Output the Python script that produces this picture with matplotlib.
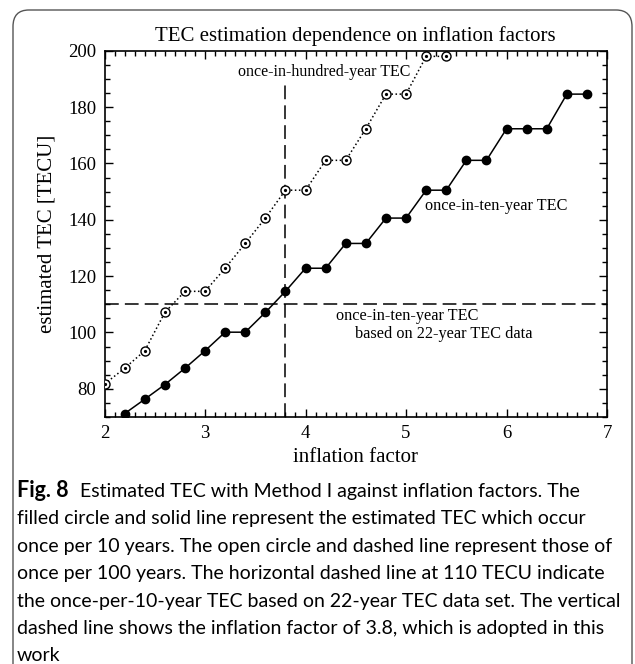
import numpy as np
import matplotlib
matplotlib.use("Agg")
import matplotlib.pyplot as plt
from matplotlib.patches import FancyBboxPatch
from matplotlib.ticker import MultipleLocator

plt.rcParams['font.family'] = 'Liberation Serif'

# 10년 1회 (filled) / 100년 1회 (open)
ten_x = [2.2, 2.4, 2.6, 2.8, 3.0, 3.2, 3.4, 3.6, 3.8, 4.0, 4.2, 4.4, 4.6, 4.8, 5.0,
         5.2, 5.4, 5.6, 5.8, 6.0, 6.2, 6.4, 6.6, 6.8]
ten_y = [71.2, 76.3, 81.5, 87.3, 93.5, 100.1, 100.1, 107.1, 114.6, 122.8, 122.8, 131.6, 131.6,
         140.6, 140.6, 150.5, 150.5, 161.1, 161.1, 172.3, 172.3, 172.3, 184.6, 184.6]
hund_x = [2.0, 2.2, 2.4, 2.6, 2.8, 3.0, 3.2, 3.4, 3.6, 3.8, 4.0, 4.2, 4.4, 4.6, 4.8, 5.0, 5.2, 5.4]
hund_y = [81.7, 87.3, 93.5, 107.1, 114.6, 114.6, 122.8, 131.6, 140.6, 150.5, 150.5,
          161.1, 161.1, 172.3, 184.6, 184.6, 198.0, 198.0]

tec_22yr = 110
adopted_factor = 3.8

fig = plt.figure(figsize=(6.35, 6.64), dpi=100)
ax = fig.add_axes([0.1646, 0.372, 0.7914, 0.5516])

ax.plot(ten_x, ten_y, '-', color='black', lw=1.1, marker='o', ms=6,
        mfc='black', mec='black', zorder=3)
ax.plot(hund_x, hund_y, ':', color='black', lw=1.1, marker='o', ms=6.5,
        mfc='white', mec='black', mew=1.0, zorder=3)
ax.plot(hund_x, hund_y, ' ', marker='o', ms=1.3, color='black', zorder=4)

ax.axhline(tec_22yr, color='black', lw=1.1, dashes=(9, 4))
ax.plot([adopted_factor, adopted_factor], [70, 189], color='black', lw=1.1, dashes=(9, 4))

ax.text(4.19, 192.5, "once-in-hundred-year TEC", ha='center', va='center', fontsize=11.5)
ax.text(5.19, 145, "once-in-ten-year TEC", ha='left', va='center', fontsize=11.7)
ax.text(4.30, 105.8, "once-in-ten-year TEC", ha='left', va='center', fontsize=11.7)
ax.text(4.49, 99.4, "based on 22-year TEC data", ha='left', va='center', fontsize=11.7)

ax.set_xlim(2, 7)
ax.set_ylim(70, 200)
ax.xaxis.set_major_locator(MultipleLocator(1))
ax.xaxis.set_minor_locator(MultipleLocator(0.1))
ax.yaxis.set_major_locator(MultipleLocator(20))
ax.yaxis.set_minor_locator(MultipleLocator(5))
ax.tick_params(which='both', direction='in', top=True, right=True, labelsize=13.5, width=1)
ax.tick_params(which='major', length=6, pad=6)
ax.tick_params(which='minor', length=3.5)
for s in ax.spines.values():
    s.set_linewidth(1.2)

ax.set_title("TEC estimation dependence on inflation factors", fontsize=15, pad=7)
ax.set_xlabel("inflation factor", fontsize=15, labelpad=4)
ax.set_ylabel("estimated TEC [TECU]", fontsize=15, labelpad=8)

# 캡션
cap_font = ['Lato', 'DejaVu Sans']
cap_size = 14
fig.text(17 / 635, 1 - 497 / 664, "Fig. 8", fontsize=15.5, fontweight='bold',
         family=cap_font, va='baseline', ha='left')
fig.text(80 / 635, 1 - 497 / 664, "Estimated TEC with Method I against inflation factors. The",
         fontsize=cap_size, family=cap_font, va='baseline', ha='left')
lines = [
    "filled circle and solid line represent the estimated TEC which occur",
    "once per 10 years. The open circle and dashed line represent those of",
    "once per 100 years. The horizontal dashed line at 110 TECU indicate",
    "the once-per-10-year TEC based on 22-year TEC data set. The vertical",
    "dashed line shows the inflation factor of 3.8, which is adopted in this",
    "work",
]
for i, line in enumerate(lines):
    fig.text(17 / 635, 1 - (497 + 27.4 * (i + 1)) / 664, line, fontsize=cap_size,
             family=cap_font, va='baseline', ha='left')

# 둥근 테두리
frame = FancyBboxPatch((13 / 635, -0.1), 619 / 635, 1 - 10 / 664 + 0.1,
                       boxstyle="round,pad=0,rounding_size=0.025",
                       transform=fig.transFigure, fill=False,
                       edgecolor='#555555', lw=1.0)
fig.patches.append(frame)

fig.savefig("out.png", dpi=100)
